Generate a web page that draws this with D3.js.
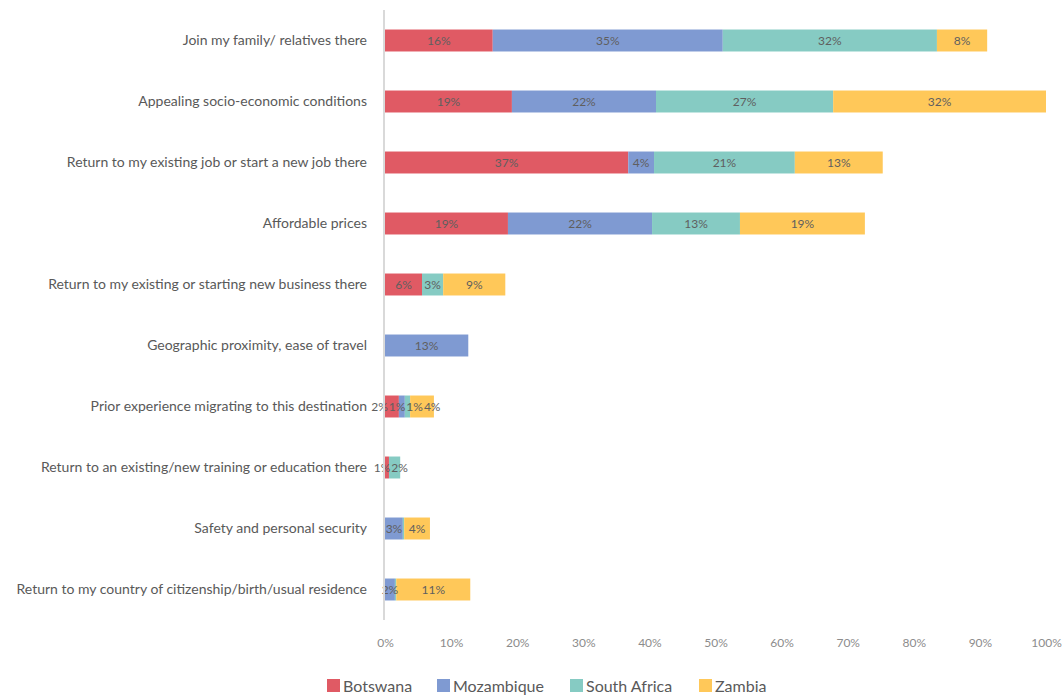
<!DOCTYPE html>
<html>
<head>
<meta charset="utf-8">
<script src="https://cdn.jsdelivr.net/npm/d3@7"></script>
<style>
  html, body { margin: 0; padding: 0; background: #fff; }
  svg text { font-family: Lato, "Open Sans", sans-serif; }
</style>
</head>
<body>
<svg id="chart" width="1064" height="695"></svg>
<script>
// Reasons for choosing the destination, share of respondents by country
const reasons = [
  "Join my family/ relatives there",
  "Appealing socio-economic conditions",
  "Return to my existing job or start a new job there",
  "Affordable prices",
  "Return to my existing or starting new business there",
  "Geographic proximity, ease of travel",
  "Prior experience migrating to this destination",
  "Return to an existing/new training or education there",
  "Safety and personal security",
  "Return to my country of citizenship/birth/usual residence"
];
const countries = ["Botswana", "Mozambique", "South Africa", "Zambia"];
const countryColors = ["#E05A64", "#7F9AD2", "#86CBC3", "#FFC859"];

// Percentages per reason, one array per country
const botswana    = [16.3, 19.2, 36.8, 18.6, 5.6, 0,    2.1, 0.6, 0,   0];
const mozambique  = [34.8, 21.8, 3.9,  21.8, 0,   12.6, 0.9, 0,   2.7, 1.5];
const southAfrica = [32.4, 26.8, 21.3, 13.3, 3.2, 0,    0.8, 1.7, 0.2, 0.2];
const zambia      = [7.6,  32.2, 13.3, 18.9, 9.4, 0,    3.6, 0,   3.9, 11.2];
const xTicks = [0, 10, 20, 30, 40, 50, 60, 70, 80, 90, 100];

const seriesValues = [botswana, mozambique, southAfrica, zambia];
const rows = reasons.map((r, i) => {
  const o = { reason: r };
  countries.forEach((c, k) => { o[c] = seriesValues[k][i]; });
  return o;
});

const svg = d3.select("#chart");
const margin = { left: 385, right: 18, top: 10, bottom: 75 };
const width = 1064, height = 695;

const x = d3.scaleLinear().domain([0, 100]).range([margin.left, width - margin.right]);
const y = d3.scaleBand().domain(reasons).range([margin.top, height - margin.bottom]).paddingInner(0.64).paddingOuter(0.32);
const color = d3.scaleOrdinal().domain(countries).range(countryColors);

const stack = d3.stack().keys(countries)(rows);

// Stacked bars
const layers = svg.append("g").selectAll("g").data(stack).join("g")
  .attr("fill", d => color(d.key));

const segments = d => d.map(p => ({ p, key: d.key, value: p.data[d.key] }));

layers.selectAll("rect").data(segments)
  .join("rect")
  .attr("x", d => x(d.p[0]))
  .attr("y", d => y(d.p.data.reason))
  .attr("width", d => Math.max(0, x(d.p[1]) - x(d.p[0])))
  .attr("height", y.bandwidth());

// Value labels, one per segment, in their own layer above all bars
const labelData = stack.flatMap(s => segments(s)).filter(s => Math.round(s.value) >= 1);
const labels = svg.append("g").selectAll("text").data(labelData)
  .join("text")
  .attr("y", d => y(d.p.data.reason) + y.bandwidth() / 2)
  .attr("dy", "0.35em")
  .attr("text-anchor", "middle")
  .attr("fill", "#5f5f5f")
  .attr("font-size", 12)
  .text(d => Math.round(d.value) + "%");

// Start each label at its segment centre, then spread crowded labels apart
labels.each(function (d) {
  d.cx = (x(d.p[0]) + x(d.p[1])) / 2;
  d.w = this.getComputedTextLength();
});
d3.groups(labelData, d => d.p.data.reason).forEach(([, items]) => {
  items.sort((a, b) => a.cx - b.cx);
  for (let iter = 0; iter < 50; iter++) {
    let moved = false;
    for (let i = 0; i < items.length - 1; i++) {
      const a = items[i], b = items[i + 1];
      const overlap = (a.cx + a.w / 2 + 1) - (b.cx - b.w / 2);
      if (overlap > 0.01) {
        a.cx -= overlap / 2;
        b.cx += overlap / 2;
        moved = true;
      }
    }
    if (!moved) break;
  }
});
labels.attr("x", d => d.cx);

// Category axis
svg.append("line")
  .attr("x1", margin.left - 1).attr("x2", margin.left - 1)
  .attr("y1", margin.top).attr("y2", height - margin.bottom)
  .attr("stroke", "#d9d9d9").attr("stroke-width", 2);

svg.append("g").selectAll("text").data(reasons).join("text")
  .attr("x", margin.left - 18)
  .attr("y", d => y(d) + y.bandwidth() / 2)
  .attr("dy", "0.35em")
  .attr("text-anchor", "end")
  .attr("fill", "#595959")
  .attr("font-size", 14)
  .text(d => d);

// Value axis
const xAxis = svg.append("g")
  .attr("transform", `translate(0,${height - margin.bottom})`)
  .call(d3.axisBottom(x).tickValues(xTicks).tickFormat(d => d + "%").tickSize(0).tickPadding(18));
xAxis.select(".domain").remove();
xAxis.selectAll("text").attr("fill", "#8c8c8c").attr("font-size", 12)
  .style("font-family", "Lato, 'Open Sans', sans-serif");

// Legend
const legendX = [327, 437, 570, 699];
const legend = svg.append("g").selectAll("g").data(countries).join("g")
  .attr("transform", (d, i) => `translate(${legendX[i]},679)`);
legend.append("rect").attr("width", 13).attr("height", 13).attr("fill", d => color(d));
legend.append("text").attr("x", 16).attr("y", 7).attr("dy", "0.35em")
  .attr("fill", "#595959").attr("font-size", 16).text(d => d);
</script>
</body>
</html>
